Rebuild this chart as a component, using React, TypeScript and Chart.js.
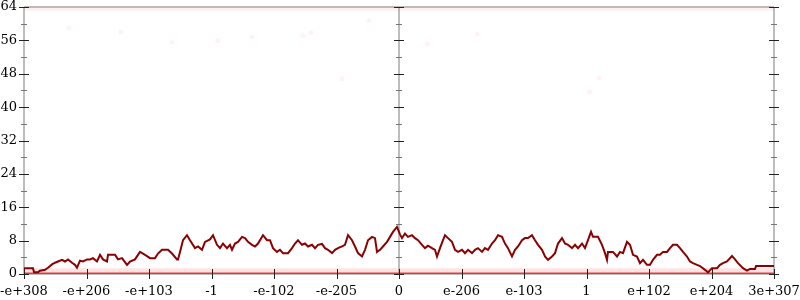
import React, { useEffect, useRef } from "react";
import { Chart, registerables } from "chart.js";
Chart.register(...registerables);

const xTickLabels = ["-e+308", "-e+206", "-e+103", "-1", "-e-102", "-e-205", "0", "e-206", "e-103", "1", "e+102", "e+204", "3e+307"];
const xTickValues = [-6, -5, -4, -3, -2, -1, 0, 1, 2, 3, 4, 5, 6];
const yMin = 0;
const yMax = 64;
const yStep = 8;

const lineX = [
  -6.0, -5.856, -5.84, -5.776, -5.744, -5.664, -5.616, -5.552, -5.504, -5.456, -5.392, -5.344, -5.296, -5.232, -5.184, -5.152,
  -5.104, -5.056, -4.992, -4.944, -4.896, -4.832, -4.784, -4.736, -4.672, -4.656, -4.544, -4.496, -4.432, -4.352, -4.304, -4.224,
  -4.144, -4.096, -4.032, -3.984, -3.904, -3.856, -3.792, -3.696, -3.632, -3.552, -3.536, -3.504, -3.456, -3.392, -3.344, -3.264,
  -3.216, -3.152, -3.104, -3.024, -2.976, -2.912, -2.864, -2.816, -2.752, -2.704, -2.672, -2.624, -2.576, -2.512, -2.464, -2.416,
  -2.352, -2.304, -2.256, -2.176, -2.112, -2.064, -2.016, -1.952, -1.904, -1.856, -1.776, -1.712, -1.664, -1.616, -1.552, -1.504,
  -1.456, -1.392, -1.344, -1.296, -1.232, -1.184, -1.136, -1.072, -1.024, -0.976, -0.912, -0.864, -0.816, -0.752, -0.704, -0.656,
  -0.592, -0.544, -0.496, -0.432, -0.384, -0.352, -0.304, -0.256, -0.192, -0.144, -0.096, -0.032, 0.016, 0.048, 0.096, 0.144,
  0.208, 0.256, 0.304, 0.368, 0.416, 0.464, 0.528, 0.576, 0.608, 0.656, 0.704, 0.736, 0.784, 0.848, 0.896, 0.944,
  1.008, 1.056, 1.104, 1.168, 1.216, 1.264, 1.328, 1.376, 1.424, 1.488, 1.536, 1.584, 1.648, 1.696, 1.744, 1.808,
  1.856, 1.904, 1.968, 2.016, 2.064, 2.128, 2.176, 2.224, 2.288, 2.336, 2.384, 2.448, 2.496, 2.544, 2.608, 2.656,
  2.704, 2.768, 2.816, 2.864, 2.928, 2.976, 3.024, 3.072, 3.104, 3.184, 3.248, 3.296, 3.328, 3.344, 3.424, 3.488,
  3.536, 3.584, 3.648, 3.696, 3.744, 3.808, 3.856, 3.904, 3.968, 4.016, 4.064, 4.128, 4.176, 4.224, 4.288, 4.336,
  4.384, 4.448, 4.496, 4.544, 4.608, 4.656, 4.704, 4.768, 4.816, 4.896, 4.944, 5.008, 5.088, 5.136, 5.184, 5.248,
  5.328, 5.376, 5.424, 5.504, 5.568, 5.616, 5.696, 5.712, 6.0,
];
const lineY = [
  1.4, 1.4, 0.4, 0.4, 0.8, 1.0, 1.5, 2.3, 2.7, 3.0, 3.4, 3.0, 3.5, 2.7, 2.2, 1.5,
  3.2, 3.0, 3.5, 3.5, 3.8, 3.0, 4.6, 3.5, 3.0, 4.6, 4.6, 3.5, 3.8, 2.2, 3.0, 3.5,
  5.3, 4.9, 4.3, 3.8, 3.8, 4.9, 5.8, 5.8, 4.9, 3.5, 3.5, 5.3, 8.1, 9.3, 8.1, 6.2,
  6.6, 5.8, 7.7, 8.3, 9.3, 7.0, 6.2, 7.3, 6.2, 7.0, 5.8, 7.3, 7.7, 8.9, 8.6, 7.7,
  7.0, 6.6, 7.3, 9.3, 8.1, 8.1, 6.2, 5.3, 5.8, 5.0, 5.0, 6.2, 7.3, 8.1, 7.0, 7.3,
  6.6, 7.0, 6.2, 7.0, 7.2, 6.2, 5.8, 5.0, 5.8, 6.2, 6.6, 7.0, 9.3, 8.1, 6.6, 5.0,
  4.2, 5.8, 8.1, 8.9, 8.6, 5.3, 5.8, 6.6, 7.7, 8.9, 10.1, 11.3, 9.5, 8.6, 9.7, 8.9,
  9.3, 8.6, 8.1, 7.0, 6.2, 6.8, 6.2, 5.8, 4.2, 6.2, 8.1, 9.3, 8.6, 7.7, 5.8, 5.3,
  5.8, 5.0, 5.8, 5.0, 5.8, 6.2, 5.3, 6.2, 5.8, 7.3, 8.1, 9.3, 8.9, 7.3, 6.2, 4.2,
  5.8, 6.6, 8.1, 8.6, 8.6, 9.3, 8.1, 7.0, 5.8, 4.2, 3.4, 4.2, 5.0, 7.3, 8.6, 7.3,
  7.0, 6.2, 7.0, 6.2, 7.3, 6.2, 8.1, 10.1, 8.9, 8.9, 7.0, 5.0, 3.4, 5.3, 5.3, 4.2,
  5.3, 5.0, 7.7, 7.0, 4.6, 4.2, 2.6, 3.4, 2.2, 2.2, 3.4, 4.6, 4.6, 5.3, 5.3, 6.2,
  7.0, 7.0, 6.2, 5.3, 4.2, 3.0, 2.6, 2.2, 1.9, 1.0, 0.4, 1.4, 1.4, 2.2, 2.6, 3.0,
  4.3, 3.5, 2.6, 1.4, 0.8, 1.2, 1.2, 1.9, 1.9,
];

const bandX = [-6, 6];
const zeroBandY = [0, 0];
const lowBandY = [0.75, 0.75];
const topBandY = [63.45, 63.45];

const dotX = [-5.28, -4.45, -3.63, -2.9, -2.35, -1.54, -1.41, -0.91, -0.48, 0.45, 1.25, 3.05, 3.2];
const dotY = [59.0, 58.0, 55.6, 55.9, 56.8, 57.1, 57.8, 46.8, 60.7, 55.2, 57.5, 43.6, 47.0];

const pairs = (xs: number[], ys: number[]) => xs.map((x, i) => ({ x, y: ys[i] }));

const zeroPad = (s: any) => {
  s.paddingTop = 0;
  s.paddingBottom = 0;
  s.paddingLeft = 0;
  s.paddingRight = 0;
};

const axesPlugin = {
  id: "crossAxes",
  beforeDatasetsDraw(chart: any) {
    const { ctx, chartArea: a, scales } = chart;
    const xs = scales.x;
    const vx = [a.left, xs.getPixelForValue(0), a.right];
    ctx.save();
    ctx.strokeStyle = "#bdbdbd";
    ctx.lineWidth = 2;
    ctx.beginPath();
    for (const x of vx) {
      ctx.moveTo(x, a.top);
      ctx.lineTo(x, a.bottom);
    }
    ctx.moveTo(a.left, a.top);
    ctx.lineTo(a.right, a.top);
    ctx.moveTo(a.left, a.bottom);
    ctx.lineTo(a.right, a.bottom);
    ctx.stroke();
    ctx.restore();
  },
  afterDatasetsDraw(chart: any) {
    const { ctx, chartArea: a, scales } = chart;
    const xs = scales.x;
    const ys = scales.y;
    const vx = [a.left, xs.getPixelForValue(0), a.right];
    ctx.save();
    ctx.lineWidth = 1;
    for (let v = yMin; v <= yMax; v += yStep / 2) {
      const py = Math.round(ys.getPixelForValue(v)) + 0.5;
      const major = v % yStep === 0;
      const h = major ? 5 : 3;
      ctx.strokeStyle = major ? "#222" : "#777";
      ctx.beginPath();
      for (const x of vx) {
        ctx.moveTo(x - h, py);
        ctx.lineTo(x + h, py);
      }
      ctx.stroke();
    }
    ctx.strokeStyle = "#222";
    ctx.beginPath();
    for (const v of xTickValues) {
      const px = Math.round(xs.getPixelForValue(v)) + 0.5;
      ctx.moveTo(px, a.bottom - 5);
      ctx.lineTo(px, a.bottom + 5);
    }
    ctx.stroke();
    ctx.restore();
  },
};

export default function App() {
  const ref = useRef<HTMLCanvasElement | null>(null);
  useEffect(() => {
    if (!ref.current) return;
    const font = { family: "DejaVu Serif", size: 13 };
    const chart = new Chart(ref.current, {
      type: "line",
      data: {
        datasets: [
          {
            data: pairs(lineX, lineY),
            borderColor: "#8b0000",
            borderWidth: 2,
            pointRadius: 0,
            tension: 0,
          },
          {
            data: pairs(bandX, zeroBandY),
            borderColor: "rgba(232,40,40,0.9)",
            borderWidth: 3,
            pointRadius: 0,
          },
          {
            data: pairs(bandX, lowBandY),
            borderColor: "rgba(255,60,60,0.15)",
            borderWidth: 5,
            pointRadius: 0,
          },
          {
            data: pairs(bandX, topBandY),
            borderColor: "rgba(255,60,60,0.08)",
            borderWidth: 3,
            pointRadius: 0,
          },
          {
            data: pairs(dotX, dotY),
            showLine: false,
            pointRadius: 2.5,
            pointBorderWidth: 0,
            pointBackgroundColor: "rgba(255,0,0,0.05)",
          },
        ] as any,
      },
      options: {
        animation: false,
        responsive: false,
        devicePixelRatio: 1,
        layout: { autoPadding: false, padding: { top: 7, right: 26, left: 0, bottom: 0 } },
        plugins: { legend: { display: false }, tooltip: { enabled: false } },
        scales: {
          x: {
            type: "linear",
            min: xTickValues[0],
            max: xTickValues[xTickValues.length - 1],
            afterBuildTicks: (s: any) => {
              s.ticks = xTickValues.map((v) => ({ value: v }));
            },
            afterFit: (s: any) => {
              s.height = 26;
              zeroPad(s);
            },
            grid: { display: false, drawTicks: false, tickLength: 0 },
            border: { display: false },
            ticks: {
              font,
              color: "#000",
              padding: 10,
              maxRotation: 0,
              autoSkip: false,
              callback: (v: any) => xTickLabels[xTickValues.indexOf(Math.round(Number(v)))],
            },
          },
          y: {
            type: "linear",
            min: yMin,
            max: yMax,
            afterFit: (s: any) => {
              s.width = 24;
              zeroPad(s);
            },
            grid: { display: false, drawTicks: false, tickLength: 0 },
            border: { display: false },
            ticks: { font, color: "#000", padding: 7, stepSize: yStep },
          },
        },
      },
      plugins: [axesPlugin],
    } as any);
    return () => chart.destroy();
  }, []);
  return (
    <div style={{ position: "absolute", left: 0, top: 0, width: 800, height: 300 }}>
      <canvas ref={ref} width={800} height={300} />
    </div>
  );
}
